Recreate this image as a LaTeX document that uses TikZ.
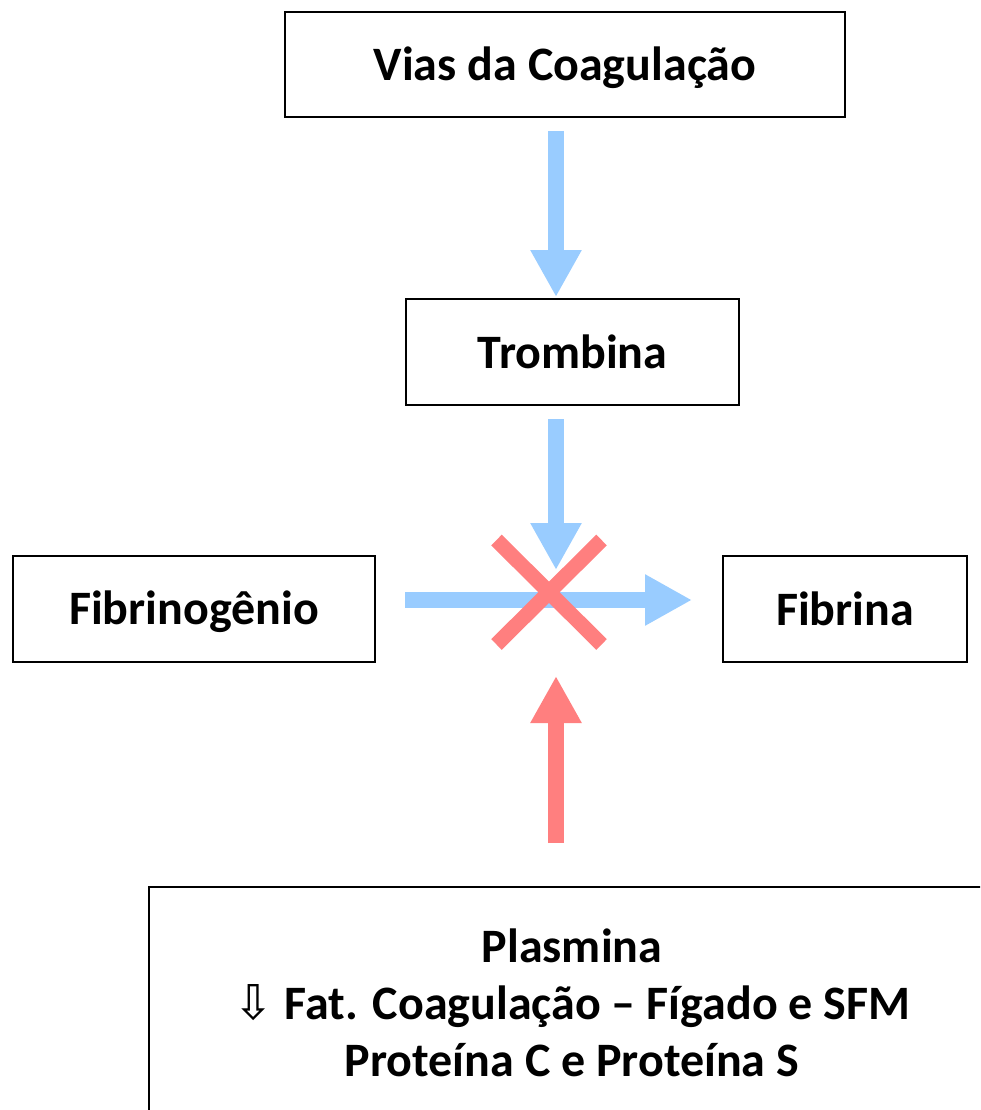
\documentclass[tikz,border=0pt]{standalone}
\usepackage{fontspec}
\setmainfont{Carlito}
\newfontfamily\symfont{DejaVu Sans}
\usetikzlibrary{arrows.meta}
\definecolor{flowblue}{HTML}{99CCFF}
\definecolor{flowred}{HTML}{FF7F7F}
\newcommand{\lowertext}[1]{\raisebox{-3pt}[\height][\depth]{#1}}
\begin{document}
\begin{tikzpicture}[x=1pt,y=-1pt,
  box/.style={draw=black,line width=2pt,fill=white,font=\fontsize{48}{58}\selectfont\bfseries,inner sep=0pt,anchor=north west},
  bluearrow/.style={draw=flowblue,line width=16pt,-{Triangle[width=48pt,length=47pt]}},
  redarrow/.style={draw=flowred,line width=16pt,-{Triangle[width=48pt,length=47pt]}},
  crossbar/.style={draw=flowred,line width=15pt}]
\useasboundingbox (0,0) rectangle (980,1110);
\clip (0,0) rectangle (980,1110);
\node[box,minimum width=560pt,minimum height=105pt] (vias) at (284,11) {\lowertext{Vias da Coagulação}};
\node[box,minimum width=333pt,minimum height=106pt] (trom) at (405,298) {Trombina};
\node[box,minimum width=362pt,minimum height=106pt] (fibg) at (12,555) {\lowertext{Fibrinogênio}};
\node[box,minimum width=244pt,minimum height=106pt] (fibr) at (722,555) {Fibrina};
\node[box,minimum width=846pt,minimum height=232pt,align=center,font=\fontsize{48}{57}\selectfont\bfseries] (plas) at (148,886)
  {Plasmina\\{\symfont\mdseries\fontsize{48}{57}\selectfont ⇩} Fat. Coagulação – Fígado e SFM\\Proteína C e Proteína S};
\coordinate (c1) at (556,131);
\coordinate (c2) at (556,297);
\coordinate (c3) at (556,419);
\coordinate (c4) at (556,570);
\coordinate (h1) at (405,600);
\coordinate (h2) at (692,600);
\coordinate (r1) at (556,843);
\coordinate (r2) at (556,676);
\coordinate (xa) at (496.5,540);
\coordinate (xb) at (601.5,644.5);
\coordinate (xc) at (601.5,540);
\coordinate (xd) at (496.5,644.5);
\draw[bluearrow] (c1) -- (c2);
\draw[bluearrow] (c3) -- (c4);
\draw[bluearrow] (h1) -- (h2);
\draw[crossbar] (xa) -- (xb);
\draw[crossbar] (xc) -- (xd);
\draw[redarrow] (r1) -- (r2);
\end{tikzpicture}
\end{document}
